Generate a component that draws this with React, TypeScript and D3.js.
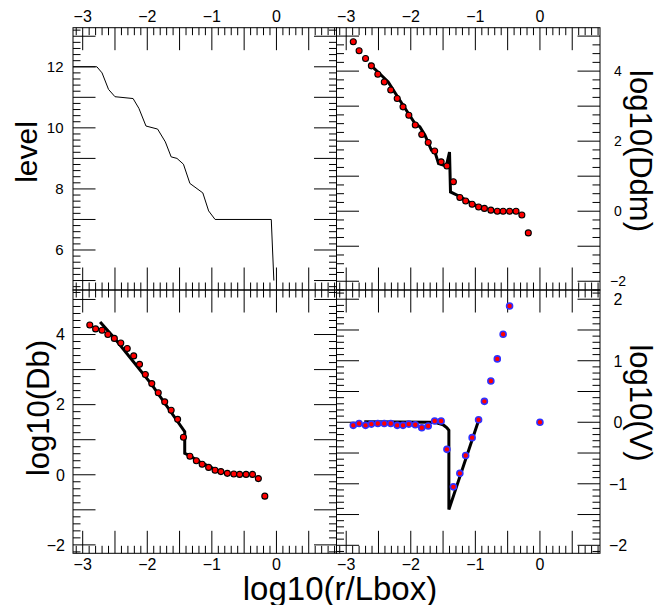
import React from 'react';
import * as d3 from 'd3';

// ---------- data ----------
const levelX = [-3.15, -2.78, -2.70, -2.60, -2.50, -2.22, -2.13, -2.02, -1.84, -1.72, -1.63, -1.54, -1.44, -1.34, -1.14, -1.05, -0.95, -0.08, -0.04];
const levelY = [12, 12, 11.80, 11.26, 11.02, 10.96, 10.64, 10.06, 9.96, 9.54, 9.05, 9.0, 8.81, 8.18, 7.87, 7.28, 7.0, 7.0, 5.0];

const binX = [-2.89, -2.80, -2.70, -2.61, -2.51, -2.41, -2.31, -2.21, -2.12, -2.03, -1.93, -1.83, -1.73, -1.63, -1.53, -1.44, -1.34, -1.24, -1.15, -1.05, -0.95, -0.86, -0.76, -0.66, -0.57, -0.47, -0.37, -0.28, -0.18];
const ddmPts = [4.84, 4.58, 4.36, 4.15, 3.91, 3.69, 3.46, 3.22, 2.98, 2.74, 2.46, 2.19, 1.96, 1.72, 1.41, 1.29, 0.84, 0.39, 0.29, 0.20, 0.12, 0.08, 0.03, 0.0, 0.0, 0.0, 0.0, -0.11, -0.62];
const dbPts = [4.27, 4.16, 4.12, 4.0, 3.89, 3.76, 3.60, 3.39, 3.15, 2.86, 2.60, 2.34, 2.08, 1.84, 1.58, 1.07, 0.53, 0.40, 0.30, 0.21, 0.13, 0.09, 0.04, 0.02, 0.01, 0.01, 0.01, -0.11, -0.61];
const vPtsX = [-2.89, -2.80, -2.70, -2.61, -2.51, -2.41, -2.31, -2.21, -2.12, -2.03, -1.93, -1.83, -1.73, -1.63, -1.53, -1.44, -1.34, -1.24, -1.15, -1.05, -0.95, -0.86, -0.76, -0.66, -0.57, -0.47, 0.0];
const vPtsY = [-0.05, -0.02, -0.05, -0.03, -0.02, -0.02, -0.02, -0.05, -0.05, -0.03, -0.04, -0.09, -0.06, 0.02, 0.02, -0.44, -1.05, -0.83, -0.54, -0.25, 0.04, 0.34, 0.67, 1.03, 1.43, 1.89, 0.0];

const ddmLineX = [-2.65, -2.50, -2.35, -2.17, -1.94, -1.86, -1.78, -1.68, -1.63, -1.57, -1.45, -1.40, -1.385, -1.24, -1.10, -0.96];
const ddmLineY = [4.22, 3.96, 3.69, 3.17, 2.52, 2.41, 2.17, 1.74, 1.72, 1.36, 1.29, 1.69, 0.55, 0.42, 0.27, 0.14];
const dbLineX = [-2.73, -2.50, -1.93, -1.42, -1.42, -1.36, -1.19, -0.98];
const dbLineY = [4.36, 3.88, 2.57, 1.23, 0.61, 0.56, 0.37, 0.18];
const vLineX = [-2.72, -1.70, -1.60, -1.50, -1.44, -1.41, -1.41, -0.95];
const vLineY = [0.01, 0.0, -0.01, -0.04, -0.09, -0.13, -1.42, 0.03];

const xTickLabels = [-3, -2, -1, 0];
const levelTickLabels = [6, 8, 10, 12];
const ddmTickLabels = [4, 2, 0, -2];
const dbTickLabels = [4, 2, 0, -2];
const vTickLabels = [2, 1, 0, -1, -2];

// ---------- layout ----------
const W = 659, H = 605;
const PX = [73, 336.5, 600];
const PY = [27.7, 290, 553.3];
const X_DOMAIN: [number, number] = [-3.15, 0.93];
const FONT = "'Liberation Sans', Arial, Helvetica, sans-serif";
const fmt = (v: number) => (v < 0 ? '\u2212' + Math.abs(v) : String(v));

function stepTicks(domain: [number, number], step: number): number[] {
  const out: number[] = [];
  const a = Math.ceil(domain[0] / step - 1e-9), b = Math.floor(domain[1] / step + 1e-9);
  for (let i = a; i <= b; i++) out.push(+(i * step).toFixed(6));
  return out;
}
const isMul = (v: number, m: number) => Math.abs(v / m - Math.round(v / m)) < 1e-6;

type Series = { xs: number[]; ys: number[] };
type PanelDef = {
  id: string;
  x0: number; x1: number; y0: number; y1: number;
  yDomain: [number, number];
  yMinor: number; yMajor: number;
  topLabels: boolean; bottomLabels: boolean;
  leftLabels?: number[]; rightLabels?: number[];
  yLabelSize: number;
  yLabelX: number; yLabelAnchor: 'end' | 'middle';
  thinLine?: Series; thickLine?: Series; dots?: Series; dotStroke?: string; dotStrokeW?: number;
};

const panels: PanelDef[] = [
  {
    id: 'lvl', x0: PX[0], x1: PX[1], y0: PY[0], y1: PY[1], yDomain: [4.69, 13.28],
    yMinor: 0.2, yMajor: 1, topLabels: true, bottomLabels: false,
    leftLabels: levelTickLabels, yLabelSize: 15, yLabelX: 63.5, yLabelAnchor: 'end',
    thinLine: { xs: levelX, ys: levelY },
  },
  {
    id: 'ddm', x0: PX[1], x1: PX[2], y0: PY[0], y1: PY[1], yDomain: [-2.25, 5.24],
    yMinor: 0.25, yMajor: 1, topLabels: true, bottomLabels: false,
    rightLabels: ddmTickLabels, yLabelSize: 14, yLabelX: 618, yLabelAnchor: 'middle',
    thickLine: { xs: ddmLineX, ys: ddmLineY }, dots: { xs: binX, ys: ddmPts }, dotStroke: '#000', dotStrokeW: 1.1,
  },
  {
    id: 'db', x0: PX[0], x1: PX[1], y0: PY[1], y1: PY[2], yDomain: [-2.24, 5.27],
    yMinor: 0.2, yMajor: 1, topLabels: false, bottomLabels: true,
    leftLabels: dbTickLabels, yLabelSize: 16, yLabelX: 65, yLabelAnchor: 'end',
    thickLine: { xs: dbLineX, ys: dbLineY }, dots: { xs: binX, ys: dbPts }, dotStroke: '#000', dotStrokeW: 1.1,
  },
  {
    id: 'v', x0: PX[1], x1: PX[2], y0: PY[1], y1: PY[2], yDomain: [-2.13, 2.15],
    yMinor: 0.1, yMajor: 0.5, topLabels: false, bottomLabels: true,
    rightLabels: vTickLabels, yLabelSize: 16, yLabelX: 618, yLabelAnchor: 'middle',
    thickLine: { xs: vLineX, ys: vLineY }, dots: { xs: vPtsX, ys: vPtsY }, dotStroke: '#3030ff', dotStrokeW: 1.6,
  },
];

const MAJ = 22.5, MIN = 7.5;

function Panel({ p }: { p: PanelDef }) {
  const x = d3.scaleLinear().domain(X_DOMAIN).range([p.x0, p.x1]);
  const y = d3.scaleLinear().domain(p.yDomain).range([p.y1, p.y0]);
  const path = (s: Series) =>
    d3.line<[number, number]>().x(d => x(d[0])).y(d => y(d[1]))(s.xs.map((v, i) => [v, s.ys[i]] as [number, number])) || '';
  const xt = stepTicks(X_DOMAIN, 0.1);
  const yt = stepTicks(p.yDomain, p.yMinor);
  const tickEls: React.ReactNode[] = [];
  xt.forEach((v, i) => {
    const L = isMul(v, 0.5) ? MAJ : MIN;
    const px = x(v);
    tickEls.push(<line key={'xt' + i} x1={px} x2={px} y1={p.y0} y2={p.y0 + L} />);
    tickEls.push(<line key={'xb' + i} x1={px} x2={px} y1={p.y1} y2={p.y1 - L} />);
  });
  yt.forEach((v, i) => {
    const L = isMul(v, p.yMajor) ? MAJ : MIN;
    const py = y(v);
    tickEls.push(<line key={'yl' + i} x1={p.x0} x2={p.x0 + L} y1={py} y2={py} />);
    tickEls.push(<line key={'yr' + i} x1={p.x1} x2={p.x1 - L} y1={py} y2={py} />);
  });
  return (
    <g>
      <defs>
        <clipPath id={'clip-' + p.id}>
          <rect x={p.x0} y={p.y0} width={p.x1 - p.x0} height={p.y1 - p.y0} />
        </clipPath>
      </defs>
      <g stroke="#000" strokeWidth={1}>{tickEls}</g>
      <rect x={p.x0} y={p.y0} width={p.x1 - p.x0} height={p.y1 - p.y0} fill="none" stroke="#000" strokeWidth={1} />
      <g clipPath={`url(#clip-${p.id})`}>
        {p.thinLine && <path d={path(p.thinLine)} fill="none" stroke="#000" strokeWidth={1} />}
        {p.thickLine && <path d={path(p.thickLine)} fill="none" stroke="#000" strokeWidth={3} strokeLinejoin="miter" />}
        {p.dots && p.dots.xs.map((v, i) => (
          <circle key={i} cx={x(v)} cy={y(p.dots!.ys[i])} r={3} fill="#ff0000" stroke={p.dotStroke} strokeWidth={p.dotStrokeW} />
        ))}
      </g>
      <g fontFamily={FONT} fontSize={16} fill="#000">
        {p.topLabels && xTickLabels.map(v => (
          <text key={'tl' + v} x={x(v)} y={21.7} textAnchor="middle">{fmt(v)}</text>
        ))}
        {p.bottomLabels && xTickLabels.map(v => (
          <text key={'bl' + v} x={x(v)} y={570} textAnchor="middle">{fmt(v)}</text>
        ))}
        {(p.leftLabels || p.rightLabels || []).map(v => (
          <text key={'yl' + v} x={p.yLabelX} y={y(v)} dy="0.36em" textAnchor={p.yLabelAnchor} fontSize={p.yLabelSize}>{fmt(v)}</text>
        ))}
      </g>
    </g>
  );
}

export default function App() {
  return (
    <svg width={W} height={H} viewBox={`0 0 ${W} ${H}`} style={{ position: 'absolute', left: 0, top: 0, background: '#fff' }}>
      <rect x={0} y={0} width={W} height={H} fill="#fff" />
      {panels.map(p => <Panel key={p.id} p={p} />)}
      <g fontFamily={FONT} fill="#000">
        <text transform="translate(37,152) rotate(-90)" textAnchor="middle" fontSize={30}>level</text>
        <text transform="translate(49,408) rotate(-90)" textAnchor="middle" fontSize={31}>log10(Db)</text>
        <text transform="translate(630,151) rotate(90)" textAnchor="middle" fontSize={31}>log10(Ddm)</text>
        <text transform="translate(630,403) rotate(90)" textAnchor="middle" fontSize={31}>log10(V)</text>
        <text x={340} y={600} textAnchor="middle" fontSize={33}>log10(r/Lbox)</text>
      </g>
    </svg>
  );
}
